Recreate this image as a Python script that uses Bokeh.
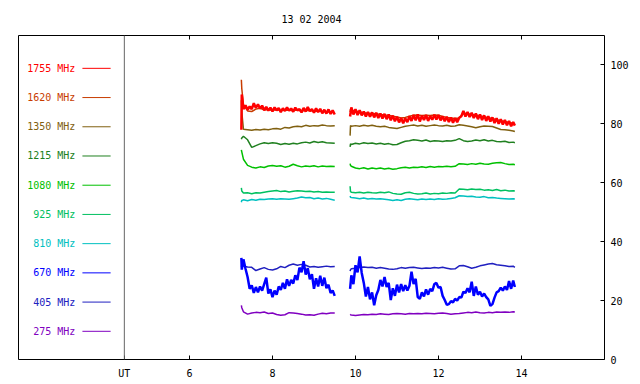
import numpy as np
from bokeh.plotting import figure
from bokeh.models import FixedTicker, Span, Range1d
from bokeh.core.properties import value
from bokeh.embed import file_html
from bokeh.resources import INLINE

# ---------------- data ----------------
title_text = "13 02 2004"
freq_labels = ["1755 MHz", "1620 MHz", "1350 MHz", "1215 MHz", "1080 MHz",
               "925 MHz", "810 MHz", "670 MHz", "405 MHz", "275 MHz"]
freq_colors = ["#ff0000", "#c83c00", "#806010", "#208020", "#00c000",
               "#00c060", "#00c0c0", "#0000ff", "#2020c0", "#8000c0"]
x_ticks = [6, 8, 10, 12, 14]
y_ticks = [0, 20, 40, 60, 80, 100]
ut_label = "UT"
ut_hour = 4.43
x_min, x_max = 1.88, 16.0
y_min, y_max = 0, 110

# sample times (UT hours)
t1_smooth = [7.25, 7.26] + list(np.round(np.arange(7.30, 9.501, 0.1), 2))
t2_smooth = [9.87, 9.88, 9.90] + list(np.round(np.arange(10.0, 13.801, 0.1), 2)) + [13.84]
t1_noisy = [7.25, 7.26] + list(np.round(np.arange(7.30, 9.501, 0.05), 2))
t2_noisy = [9.87] + list(np.round(np.arange(9.90, 13.801, 0.05), 2)) + [13.84]

s1755_a = [78.0, 90.0, 85.0, 86.3, 84.8, 85.9, 85.0, 87.0, 85.4, 86.6, 85.2, 86.2, 84.6, 85.8,
           84.5, 85.5, 84.2, 85.6, 84.6, 85.4, 84.0, 85.3, 84.4, 85.6, 84.5, 85.2, 84.1, 85.5,
           84.6, 85.0, 83.9, 85.4, 84.2, 85.7, 84.3, 85.0, 83.8, 85.3, 84.0, 85.1, 83.6, 84.8,
           83.5, 84.9, 83.4, 84.6, 83.2]
s1755_b = [82.5, 85.6, 83.2,
           85.0, 83.0, 84.6, 82.9, 84.2, 82.5, 84.0, 82.4, 83.9, 82.2,
           83.8, 82.0, 83.5, 81.8, 83.4, 81.6, 83.2, 81.2, 82.8, 80.9,
           82.4, 80.5, 82.0, 80.2, 81.9, 80.6, 82.6, 81.0, 83.0, 81.2,
           83.2, 80.8, 82.8, 81.3, 83.0, 81.0, 82.7, 81.4, 83.1, 81.5,
           83.0, 81.2, 82.6, 80.9, 82.4, 80.6, 82.2, 80.4, 82.0, 80.6,
           82.1, 82.6, 84.4, 82.5, 84.0, 82.3, 83.8, 82.0, 83.5, 81.6,
           83.2, 81.3, 82.9, 81.0, 82.6, 80.8, 82.2, 80.3, 81.9, 80.0,
           81.6, 79.8, 81.3, 79.5, 81.0, 79.2, 80.6,
           79.4]

s1620_a = [95.0, 92.0, 86.5, 84.4, 84.2, 85.0, 85.3, 84.8, 84.8, 84.6, 84.8, 84.5, 84.7,
           84.6, 84.5, 84.7, 84.4, 84.6, 84.5, 84.3, 84.4, 84.2, 84.1, 84.0, 83.8]
s1620_b = [84.0, 85.0, 84.6,
           84.4, 84.0, 83.8, 83.6, 83.5, 83.4, 83.2, 83.0, 82.9, 82.6,
           82.3, 82.0, 82.2, 82.6, 82.9, 83.0, 82.8, 82.9, 82.8, 83.0,
           82.9, 82.5, 82.2, 82.0, 81.8, 82.0, 83.6, 83.4, 83.2, 83.0,
           82.7, 82.4, 82.1, 81.8, 81.4, 81.1, 80.8, 80.5, 80.2,
           80.0]

s1350_a = [88.0, 84.0, 78.2, 78.0, 77.8, 78.1, 77.9, 78.2, 78.0, 78.3, 78.4, 78.2, 78.8,
           78.6, 79.0, 79.2, 79.0, 79.5, 79.2, 79.4, 79.3, 79.6, 79.4, 79.3, 79.4]
s1350_b = [76.0, 79.4, 79.2,
           79.4, 79.2, 79.5, 79.3, 79.5, 79.2, 79.0, 79.2, 78.8, 78.6,
           78.4, 78.8, 79.2, 79.4, 79.6, 79.3, 79.5, 79.2, 79.4, 79.6,
           79.4, 79.3, 79.5, 79.2, 79.3, 79.7, 79.5, 79.3, 79.0, 78.7,
           79.0, 79.3, 79.2, 79.1, 78.6, 78.1, 78.0, 77.8, 77.6,
           77.4]

s1215_a = [74.8, 75.2, 75.8, 74.6, 72.0, 72.6, 73.2, 73.6, 73.3, 73.6, 73.4, 73.0, 73.3,
           73.1, 73.4, 73.2, 73.6, 73.8, 73.5, 74.0, 73.7, 73.9, 73.6, 73.5, 73.4]
s1215_b = [72.2, 73.2, 73.0,
           73.4, 73.2, 73.6, 73.3, 73.5, 73.2, 73.4, 73.1, 73.3, 72.9,
           73.0, 73.6, 74.1, 74.3, 74.6, 74.4, 74.2, 74.5, 74.0, 74.3,
           74.2, 74.0, 74.3, 74.2, 74.4, 75.0, 74.3, 74.0, 74.2, 74.5,
           74.3, 74.6, 74.2, 74.4, 74.0, 73.9, 74.1, 73.7, 73.8,
           73.6]

s1080_a = [71.2, 70.5, 68.0, 65.9, 65.3, 65.0, 65.4, 65.2, 65.7, 65.9, 65.6, 65.8, 65.3,
           65.6, 66.3, 65.8, 65.4, 65.7, 65.5, 65.8, 65.4, 65.7, 65.5, 65.6, 65.5]
s1080_b = [66.5, 65.9, 65.6,
           65.0, 64.8, 65.1, 64.7, 65.0, 64.8, 65.0, 64.7, 64.9, 64.6,
           64.8, 65.1, 65.3, 65.0, 65.3, 65.2, 65.4, 65.2, 65.5, 65.3,
           65.5, 65.4, 65.6, 65.4, 65.6, 66.5, 66.4, 66.2, 66.5, 66.3,
           66.6, 66.4, 66.3, 66.6, 66.8, 66.9, 66.5, 66.2, 66.3,
           66.1]

s925_a = [58.3, 57.2, 56.5, 56.6, 56.3, 56.6, 56.5, 56.8, 57.0, 57.2, 57.4, 57.0, 57.2,
          56.9, 57.1, 57.3, 57.2, 57.0, 57.1, 56.9, 57.0, 56.8, 56.9, 56.8, 56.8]
s925_b = [58.8, 57.0, 56.8,
          56.6, 56.8, 56.5, 56.8, 56.6, 56.5, 56.8, 56.6, 56.9, 56.4,
          56.2, 56.1, 56.6, 56.8, 56.4, 56.2, 56.3, 56.5, 56.2, 56.4,
          56.3, 56.5, 56.4, 56.6, 56.5, 57.9, 57.8, 57.6, 57.9, 57.7,
          57.8, 57.5, 57.6, 57.4, 57.7, 57.3, 57.5, 57.2, 57.3,
          57.2]

s810_a = [53.4, 54.0, 54.2, 53.9, 54.3, 54.1, 54.4, 54.3, 54.5, 54.6, 54.4, 54.6, 54.5,
          54.4, 54.6, 54.8, 55.2, 54.9, 55.0, 54.6, 54.8, 54.5, 54.7, 54.4, 54.1]
s810_b = [55.5, 55.1, 55.0,
          54.8, 54.6, 54.8, 54.5, 54.7, 54.5, 54.6, 54.4, 54.2, 54.0,
          54.2, 54.0, 54.4, 54.6, 54.4, 54.2, 54.5, 54.3, 54.5, 54.3,
          54.6, 54.4, 54.5, 54.7, 54.9, 55.6, 55.5, 55.3, 55.4, 55.2,
          55.1, 55.3, 54.9, 55.0, 54.8, 54.7, 54.6, 54.5, 54.6,
          54.5]

s670_a = [34.5, 30.5, 34.0, 30.8, 28.0, 24.0, 25.2, 22.6, 24.6, 22.8, 24.8, 23.4, 25.6,
          27.8, 22.4, 23.8, 21.2, 23.4, 22.0, 24.8, 23.6, 26.0, 24.0, 27.2, 25.0, 27.0,
          25.8, 28.6, 27.0, 31.2, 29.6, 33.4, 28.8, 31.0, 27.2, 29.0, 24.0, 27.6, 24.8,
          28.4, 25.0, 27.8, 24.2, 25.4, 22.6, 23.4, 21.6]
s670_b = [24.0, 28.6, 25.6,
          32.0, 29.6, 35.0, 29.4, 26.0, 21.4, 24.6, 20.4, 22.8, 18.4,
          21.8, 23.6, 27.0, 24.8, 28.0, 24.6, 26.0, 20.2, 24.2, 21.6,
          25.4, 22.8, 25.6, 23.2, 25.2, 23.4, 25.0, 29.8, 25.6, 27.4,
          21.2, 20.6, 22.8, 21.4, 23.8, 22.0, 24.0, 23.2, 25.6, 26.0,
          24.4, 24.6, 21.6, 20.2, 18.6, 18.8, 19.8, 19.4, 20.6, 20.0,
          21.2, 21.0, 23.0, 22.6, 24.2, 22.8, 26.4, 21.6, 24.8, 22.0,
          23.0, 21.4, 22.4, 21.2, 20.4, 18.2, 18.8, 21.0, 22.8, 23.2,
          24.4, 23.4, 24.8, 23.6, 26.6, 24.0, 26.8,
          24.6]

s405_a = [31.5, 32.0, 31.7, 31.4, 31.3, 30.2, 30.7, 31.2, 30.6, 30.4, 30.8, 31.6, 31.2,
          32.0, 32.4, 32.0, 32.3, 32.0, 31.4, 31.6, 31.3, 31.5, 31.7, 31.5, 31.6]
s405_b = [30.0, 30.5, 30.8,
          31.0, 31.2, 31.4, 31.2, 31.3, 31.0, 31.2, 31.0, 30.7, 30.6,
          30.8, 31.2, 31.0, 31.2, 31.3, 31.1, 30.9, 31.1, 31.0, 31.2,
          31.1, 31.3, 31.0, 30.7, 30.8, 31.8, 31.9, 31.5, 31.0, 31.3,
          31.8, 32.1, 32.4, 32.6, 32.2, 32.0, 31.8, 31.6, 31.7,
          31.3]

s275_a = [18.4, 17.6, 16.2, 15.4, 15.8, 16.0, 15.9, 16.1, 15.6, 15.8, 15.3, 15.0, 15.2,
          15.9, 15.8, 15.6, 15.4, 15.1, 15.2, 15.0, 15.4, 15.7, 15.5, 15.8, 15.8]
s275_b = [15.3, 15.2, 15.1,
          14.9, 15.1, 15.3, 15.2, 15.4, 15.3, 15.5, 15.4, 15.3, 15.5,
          15.6, 15.5, 15.4, 15.6, 15.5, 15.6, 15.5, 15.7, 15.6, 15.5,
          15.7, 15.8, 15.6, 15.4, 15.5, 15.6, 15.8, 16.0, 15.9, 16.1,
          15.9, 15.8, 16.0, 15.9, 16.1, 16.0, 16.1, 16.0, 16.2,
          16.1]

# ---------------- figure ----------------
FONT = "DejaVu Sans Mono"
p = figure(width=640, height=384, output_backend="svg", toolbar_location=None,
           x_range=Range1d(x_min, x_max), y_range=Range1d(y_min, y_max),
           x_axis_location="below", y_axis_location="right",
           min_border_left=18, min_border_right=36, min_border_top=35, min_border_bottom=25)
p.background_fill_color = "white"
p.border_fill_color = "white"
p.outline_line_color = "black"
p.outline_line_width = 1
p.grid.visible = False

p.title.text = title_text
p.title.align = "center"
p.title.text_font = FONT
p.title.text_font_size = "10px"
p.title.text_font_style = "normal"
p.title.text_color = "black"
p.title.standoff = 21

def style_axis(ax, ticks, standoff):
    ax.ticker = FixedTicker(ticks=ticks)
    ax.axis_line_color = None
    ax.major_tick_in = 4
    ax.major_tick_out = 0
    ax.minor_tick_line_color = None
    ax.major_tick_line_color = "black"
    ax.major_label_text_font = FONT
    ax.major_label_text_font_size = "10px"
    ax.major_label_text_color = "black"
    ax.major_label_standoff = standoff

style_axis(p.xaxis[0], [ut_hour] + x_ticks, 8)
p.xaxis[0].major_label_overrides = {ut_hour: ut_label}
style_axis(p.yaxis[0], y_ticks, 6)

# inward ticks along the top edge, at the same hours as the bottom axis
tick_len = 4 / 2.947
p.segment(x0=x_ticks, y0=[y_max] * len(x_ticks), x1=x_ticks,
          y1=[y_max - tick_len] * len(x_ticks), line_color="black", line_width=1)

# divider between the key area and the data area
p.add_layout(Span(location=ut_hour, dimension="height", line_color="#666666", line_width=1))

# data (drawn from lowest to highest frequency so red ends on top)
series = [
    (s1755_a, s1755_b, True), (s1620_a, s1620_b, False), (s1350_a, s1350_b, False),
    (s1215_a, s1215_b, False), (s1080_a, s1080_b, False), (s925_a, s925_b, False),
    (s810_a, s810_b, False), (s670_a, s670_b, True), (s405_a, s405_b, False),
    (s275_a, s275_b, False),
]
for i in reversed(range(len(series))):
    a, b, noisy = series[i]
    ta, tb = (t1_noisy, t2_noisy) if noisy else (t1_smooth, t2_smooth)
    assert len(a) == len(ta), (freq_labels[i], len(a), len(ta))
    assert len(b) == len(tb), (freq_labels[i], len(b), len(tb))
    lw = 2.5 if noisy else 1.5
    p.line(ta, a, line_color=freq_colors[i], line_width=lw)
    p.line(tb, b, line_color=freq_colors[i], line_width=lw)

# key on the left
key_top = 98.85
key_step = 9.92
key_y = [key_top - k * key_step for k in range(len(freq_labels))]
key_text_x = 3.25
key_line_x0, key_line_x1 = 3.42, 4.10
n = len(freq_labels)
p.text(x=[key_text_x] * n, y=key_y, text=freq_labels, text_color=freq_colors,
       text_align="right", text_baseline="middle",
       text_font=value(FONT), text_font_size="10px")
p.segment(x0=[key_line_x0] * n, y0=key_y, x1=[key_line_x1] * n, y1=key_y,
          line_color=freq_colors, line_width=1)

open("out.html", "w").write(file_html(p, INLINE))
